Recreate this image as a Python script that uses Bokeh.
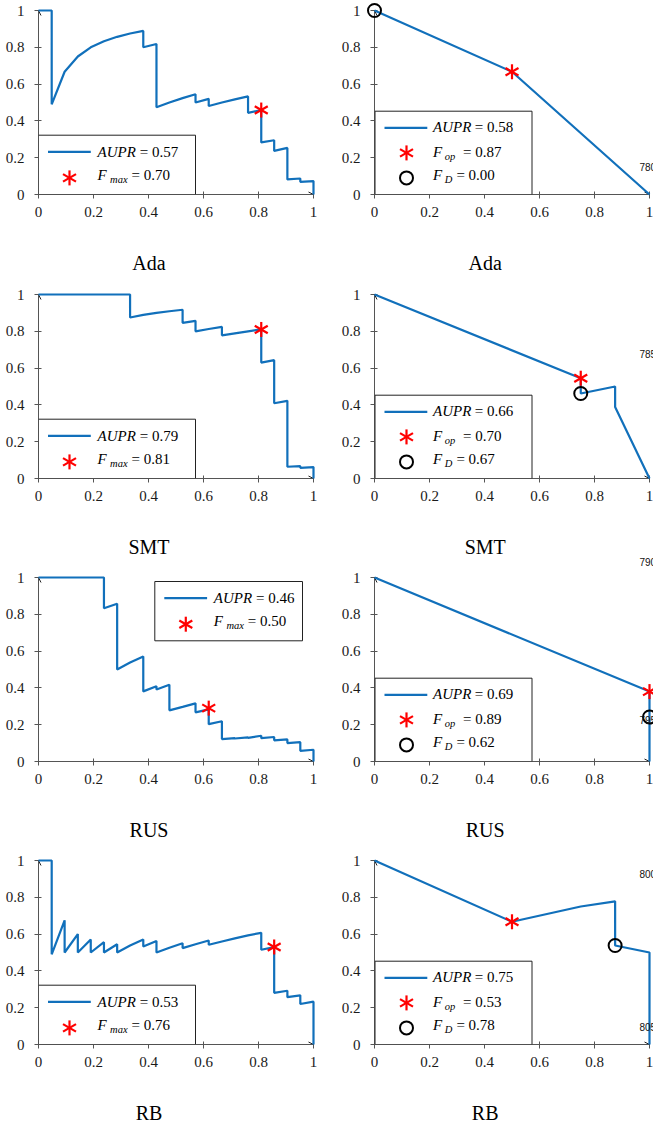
import math
from bokeh.plotting import figure
from bokeh.layouts import gridplot
from bokeh.models import (Range1d, FixedTicker, CustomJSTickFormatter,
                          Arrow, OpenHead, BoxAnnotation)
from bokeh.core.properties import value
from bokeh.embed import file_html
from bokeh.resources import INLINE

# ---------------- data ----------------
METHODS = ["Ada", "SMT", "RUS", "RB"]
TICKS = [0, 0.2, 0.4, 0.6, 0.8, 1]

AUPR_LEFT = [0.57, 0.79, 0.46, 0.53]
FMAX = [0.70, 0.81, 0.50, 0.76]
AUPR_RIGHT = [0.58, 0.66, 0.69, 0.75]
FOP = [0.87, 0.70, 0.89, 0.53]
FD = [0.00, 0.67, 0.62, 0.78]

# left column: precision-recall curves (recall, precision)
ADA_L_R = [0, 0.048, 0.048, 0.095, 0.143, 0.190, 0.238, 0.286, 0.333, 0.381,
           0.381, 0.429, 0.429, 0.476, 0.524, 0.571, 0.571, 0.619, 0.619, 0.667,
           0.714, 0.762, 0.762, 0.810, 0.810, 0.857, 0.857, 0.905, 0.905, 0.952,
           0.952, 1.0, 1.0]
ADA_L_P = [1, 1, 0.49, 0.667, 0.75, 0.8, 0.833, 0.857, 0.875, 0.889,
           0.8, 0.818, 0.474, 0.5, 0.524, 0.545, 0.5, 0.52, 0.481, 0.5,
           0.517, 0.533, 0.444, 0.459, 0.283, 0.295, 0.237, 0.253, 0.082, 0.087,
           0.069, 0.073, 0]

SMT_L_R = [0, 0.333, 0.333, 0.381, 0.429, 0.476, 0.524, 0.524, 0.571, 0.571,
           0.619, 0.667, 0.667, 0.714, 0.762, 0.810, 0.810, 0.857, 0.857, 0.905,
           0.905, 0.952, 0.952, 1.0, 1.0]
SMT_L_P = [1, 1, 0.875, 0.889, 0.9, 0.909, 0.917, 0.846, 0.857, 0.8,
           0.8125, 0.824, 0.778, 0.789, 0.8, 0.81, 0.63, 0.643, 0.409, 0.422,
           0.064, 0.067, 0.058, 0.062, 0]

RUS_L_R = [0, 0.238, 0.238, 0.286, 0.286, 0.333, 0.381, 0.381, 0.429, 0.429,
           0.476, 0.476, 0.524, 0.571, 0.571, 0.619, 0.619, 0.667, 0.667, 0.714,
           0.714, 0.762, 0.762, 0.810, 0.810, 0.857, 0.857, 0.905, 0.905, 0.952,
           0.952, 1.0, 1.0]
RUS_L_P = [1, 1, 0.833, 0.857, 0.5, 0.538, 0.571, 0.381, 0.409, 0.391,
           0.417, 0.278, 0.297, 0.316, 0.267, 0.283, 0.203, 0.219, 0.122, 0.127,
           0.125, 0.131, 0.128, 0.14, 0.127, 0.133, 0.115, 0.12, 0.1, 0.105,
           0.058, 0.064, 0]

RB_L_R = [0, 0.048, 0.048, 0.095, 0.095, 0.143, 0.143, 0.190, 0.190, 0.238,
          0.238, 0.286, 0.286, 0.333, 0.381, 0.381, 0.429, 0.429, 0.476, 0.524,
          0.524, 0.571, 0.619, 0.619, 0.667, 0.714, 0.762, 0.810, 0.810, 0.857,
          0.857, 0.905, 0.905, 0.952, 0.952, 1.0, 1.0]
RB_L_P = [1, 1, 0.49, 0.675, 0.5, 0.6, 0.5, 0.571, 0.5, 0.556,
          0.5, 0.545, 0.5, 0.538, 0.571, 0.533, 0.5625, 0.5, 0.526, 0.55,
          0.524, 0.545, 0.565, 0.542, 0.56, 0.577, 0.593, 0.607, 0.515, 0.529,
          0.281, 0.292, 0.257, 0.267, 0.22, 0.233, 0]

# right column curves
ADA_R_R = [0, 0.5, 1]
ADA_R_P = [1, 0.667, 0]
SMT_R_R = [0, 0.75, 0.75, 0.875, 0.875, 1]
SMT_R_P = [1, 0.545, 0.462, 0.5, 0.389, 0]
RUS_R_R = [0, 1, 1]
RUS_R_P = [1, 0.38, 0]
RB_R_R = [0, 0.5, 0.75, 0.875, 0.875, 1, 1]
RB_R_P = [1, 0.667, 0.75, 0.778, 0.538, 0.5, 0]

# marked points
FMAX_PT_R = [0.81, 0.81, 0.619, 0.857]
FMAX_PT_P = [0.459, 0.81, 0.29, 0.53]
FOP_PT_R = [0.5, 0.75, 1.0, 0.5]
FOP_PT_P = [0.667, 0.545, 0.38, 0.667]
FD_PT_R = [0.0, 0.75, 1.0, 0.875]
FD_PT_P = [1.0, 0.462, 0.242, 0.538]

LEFT_CURVES = [(ADA_L_R, ADA_L_P), (SMT_L_R, SMT_L_P), (RUS_L_R, RUS_L_P), (RB_L_R, RB_L_P)]
RIGHT_CURVES = [(ADA_R_R, ADA_R_P), (SMT_R_R, SMT_R_P), (RUS_R_R, RUS_R_P), (RB_R_R, RB_R_P)]

# page margin line numbers (right edge), per right-panel row
LINE_NUMBERS = [[("780", 28)], [("785", 125), ("790", -83)], [("795", 42)], [("800", 171), ("805", 18)]]

# ---------------- style / layout ----------------
BLUE = "#1170bb"
FW, FH = 275, 184
ROW_TB = [10, 10, 10, 10]
ROW_BB = [90, 89, 89, 82]
TITLE_CENTER_DROP = 68.5
SERIF = "Liberation Serif"
TICK_FONTS = ['"Liberation Serif"', "'Liberation Serif'"]


def dx(px):
    return px / FW


def dy(px):
    return px / FH


def make_fig(tb, bb, lb, rb, tick_font):
    p = figure(width=lb + FW + rb, height=tb + FH + bb,
               x_range=Range1d(0, 1), y_range=Range1d(0, 1),
               output_backend="svg", toolbar_location=None, tools="",
               min_border_left=lb, min_border_right=rb,
               min_border_top=tb, min_border_bottom=bb)
    p.outline_line_color = None
    p.grid.visible = False
    p.background_fill_color = "white"
    p.border_fill_color = "white"
    for ax in (p.xaxis[0], p.yaxis[0]):
        ax.ticker = FixedTicker(ticks=TICKS)
        ax.formatter = CustomJSTickFormatter(
            code="return tick == 0 ? '0' : (tick == 1 ? '1' : tick.toFixed(1));")
        ax.axis_line_color = "#555555"
        ax.axis_line_width = 1
        ax.major_tick_line_color = "#555555"
        ax.major_tick_in = 3
        ax.major_tick_out = 4
        ax.minor_tick_line_color = None
        ax.major_label_text_font = tick_font
        ax.major_label_text_font_size = "15px"
        ax.major_label_text_color = "#1a1a1a"
    p.xaxis[0].major_label_standoff = 8
    p.yaxis[0].major_label_standoff = 10
    p.add_layout(Arrow(end=OpenHead(size=5, line_color="#222222", line_width=1),
                       x_start=0.97, y_start=0, x_end=1, y_end=0,
                       line_color="#555555", line_width=1))
    p.add_layout(Arrow(end=OpenHead(size=5, line_color="#222222", line_width=1),
                       x_start=0, y_start=0.97, x_end=0, y_end=1,
                       line_color="#555555", line_width=1))
    return p


def add_text(p, x_px, base_px, text, size=15, style="italic", font=SERIF,
             align="left", color="black"):
    # base_px: alphabetic baseline (px above frame bottom); drawn centred on the
    # middle of the em box, which sits 0.3375 em above the baseline
    p.text(x=[dx(x_px)], y=[dy(base_px + 0.3375 * size)], text=[text],
           text_font=value(font), text_font_size=value(f"{size}px"),
           text_font_style=value(style), text_align=value(align),
           text_baseline=value("middle"), text_color=color, level="overlay")


def add_mid_text(p, x_px, mid_px, text, size, style, font, align, color):
    p.text(x=[dx(x_px)], y=[dy(mid_px)], text=[text],
           text_font=value(font), text_font_size=value(f"{size}px"),
           text_font_style=value(style), text_align=value(align),
           text_baseline=value("middle"), text_color=color, level="overlay")


def star(p, x, y, size=15):
    for a in (math.pi / 2, math.pi / 6, -math.pi / 6):
        p.scatter([x], [y], marker="dash", size=size, angle=a,
                  line_color="red", line_width=2.2, level="overlay")


def ring(p, x, y, size=13):
    p.scatter([x], [y], marker="circle", size=size, fill_color=None,
              line_color="black", line_width=2, level="overlay")


def box(p, l, b, r, t):
    p.add_layout(BoxAnnotation(left=dx(l), right=dx(r), bottom=dy(b), top=dy(t),
                               fill_color="white", fill_alpha=1.0,
                               line_color="#222222", line_width=1, line_alpha=1.0))


def legend2(p, left, top, width, aupr, fmax):
    box(p, left, top - 59.3, left + width, top)
    p.line([dx(left + 9.5), dx(left + 52.3)], [dy(top - 16.7)] * 2,
           line_color=BLUE, line_width=2.2, level="overlay")
    tx = left + 59
    add_text(p, tx, top - 21.4, "AUPR")
    add_text(p, tx + 42.3, top - 21.4, f"= {aupr:.2f}", style="normal")
    star(p, dx(left + 31), dy(top - 42.7))
    add_text(p, tx, top - 44.7, "F")
    add_text(p, tx + 12.6, top - 47.4, "max", size=10.5)
    add_text(p, tx + 34, top - 44.7, f"= {fmax:.2f}", style="normal")


def legend3(p, aupr, fop, fd):
    left, top, width = 0.5, 83.3, 157
    box(p, left, 0, left + width, top)
    p.line([dx(left + 9.5), dx(left + 52.3)], [dy(top - 16.7)] * 2,
           line_color=BLUE, line_width=2.2, level="overlay")
    tx = left + 58
    add_text(p, tx, top - 21, "AUPR")
    add_text(p, tx + 41.7, top - 21, f"= {aupr:.2f}", style="normal")
    star(p, dx(left + 31.5), dy(top - 41.7))
    add_text(p, tx, top - 46, "F")
    add_text(p, tx + 11.7, top - 48.7, "op", size=10.5)
    add_text(p, tx + 30, top - 46, f"= {fop:.2f}", style="normal")
    ring(p, dx(left + 31.5), dy(top - 66.7))
    add_text(p, tx, top - 69, "F")
    add_text(p, tx + 11.7, top - 71.7, "D", size=10.5)
    add_text(p, tx + 23.4, top - 69, f"= {fd:.2f}", style="normal")


rows = []
for i, m in enumerate(METHODS):
    tb, bb = ROW_TB[i], ROW_BB[i]

    # ---- left panel ----
    pl = make_fig(tb, bb, 38, 25, TICK_FONTS[0])
    rr, pp = LEFT_CURVES[i]
    if m == "RUS":
        legend2(pl, 116.3, FH - 4, 147.7, AUPR_LEFT[i], FMAX[i])
    else:
        legend2(pl, 0, 59.3, 157, AUPR_LEFT[i], FMAX[i])
    pl.line(rr, pp, line_color=BLUE, line_width=2.2, level="overlay")
    star(pl, FMAX_PT_R[i], FMAX_PT_P[i])
    add_mid_text(pl, 110.5, -TITLE_CENTER_DROP, m, 20, "normal", SERIF, "center", "black")

    # ---- right panel ----
    pr = make_fig(tb, bb, 36, 4, TICK_FONTS[1])
    rr, pp = RIGHT_CURVES[i]
    legend3(pr, AUPR_RIGHT[i], FOP[i], FD[i])
    pr.line(rr, pp, line_color=BLUE, line_width=2.2, level="overlay")
    star(pr, FOP_PT_R[i], FOP_PT_P[i])
    ring(pr, FD_PT_R[i], FD_PT_P[i])
    add_mid_text(pr, 110.7, -TITLE_CENTER_DROP, m, 20, "normal", SERIF, "center", "black")
    for txt, ypx in LINE_NUMBERS[i]:
        add_mid_text(pr, 265, ypx, txt, 10, "normal", "Liberation Sans", "left", "#111111")

    rows.append([pl, pr])

grid = gridplot(rows, toolbar_location=None)

open("out.html", "w").write(file_html(grid, INLINE))
